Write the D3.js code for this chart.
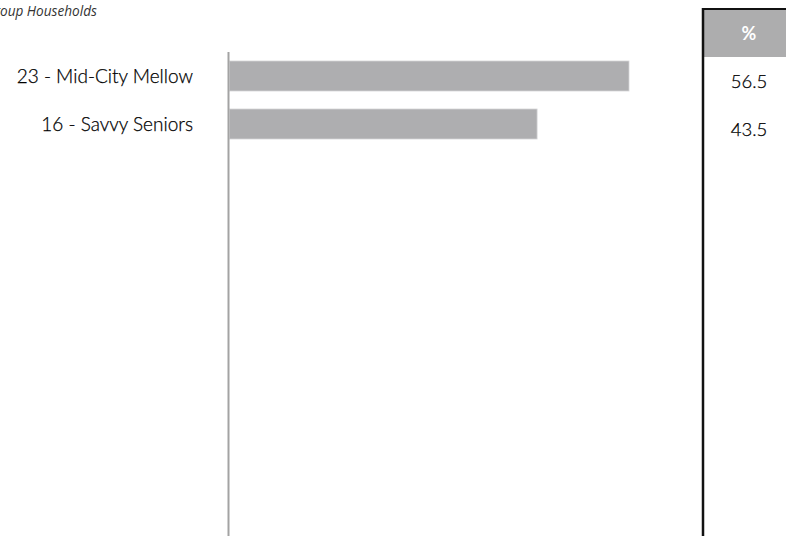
<!DOCTYPE html>
<html>
<head>
<meta charset="utf-8">
<script src="https://cdn.jsdelivr.net/npm/d3@7"></script>
<style>
  html, body { margin: 0; padding: 0; background: #fff; }
  svg { display: block; }
</style>
</head>
<body>
<div id="chart"></div>
<script>
const width = 786, height = 536;

const segments = ['23 - Mid-City Mellow', '16 - Savvy Seniors'];
const percents = [56.5, 43.5];
const tableHeader = '%';
const titleText = 'Group Households';

const slots = 10;               // the axis is laid out for ten rows, only two are filled
const font = 'Lato, "Open Sans", sans-serif';

const svg = d3.select('#chart')
  .append('svg')
  .attr('width', width)
  .attr('height', height);

const yScale = d3.scaleBand()
  .domain(d3.range(slots))
  .range([52, 52 + slots * 48])
  .paddingInner(0.375)
  .paddingOuter(0.1875);

const xScale = d3.scaleLinear()
  .domain([0, d3.max(percents)])
  .range([229.5, 629]);

/* Title - the original is cut off at the left edge, so "Gr" sits outside the page */
const title = svg.append('text')
  .attr('y', 16)
  .attr('font-family', '"Open Sans", sans-serif').attr('font-style', 'italic')
  .attr('font-size', '13.6px').attr('fill', '#333')
  .text(titleText);
title.attr('x', -title.node().getSubStringLength(0, 2));

/* Bars */
svg.selectAll('rect.bar')
  .data(percents).join('rect')
  .attr('class', 'bar')
  .attr('x', xScale(0))
  .attr('y', (d, i) => yScale(i))
  .attr('width', d => xScale(d) - xScale(0))
  .attr('height', yScale.bandwidth())
  .attr('fill', '#aeaeb0')
  .attr('stroke', '#d4d4d6').attr('stroke-width', 0.8);

/* Category labels */
svg.selectAll('text.cat')
  .data(segments).join('text')
  .attr('class', 'cat')
  .attr('x', 193)
  .attr('y', (d, i) => yScale(i) + yScale.bandwidth() / 2)
  .attr('dy', '0.35em')
  .attr('text-anchor', 'end')
  .attr('font-family', font).attr('font-weight', 300).attr('font-size', '19px')
  .attr('fill', '#000')
  .attr('stroke', '#000').attr('stroke-width', 0.25)
  .text(d => d);

/* Vertical axis line */
svg.append('line')
  .attr('x1', 228.5).attr('x2', 228.5)
  .attr('y1', 52).attr('y2', height)
  .attr('stroke', '#a3a3a3').attr('stroke-width', 2);

/* Side table */
const table = svg.append('g');
table.append('rect')
  .attr('x', 704).attr('y', 10)
  .attr('width', width - 704).attr('height', 47)
  .attr('fill', '#adadae');
table.append('line')
  .attr('x1', 703).attr('x2', width)
  .attr('y1', 9).attr('y2', 9)
  .attr('stroke', '#111').attr('stroke-width', 2);
table.append('line')
  .attr('x1', 703).attr('x2', 703)
  .attr('y1', 8).attr('y2', height)
  .attr('stroke', '#111').attr('stroke-width', 2.5);
table.append('text')
  .attr('x', 749).attr('y', 33.5).attr('dy', '0.35em')
  .attr('text-anchor', 'middle')
  .attr('font-family', font).attr('font-weight', 700)
  .attr('font-size', '18px').attr('fill', '#fff')
  .text(tableHeader);
table.selectAll('text.val')
  .data(percents).join('text')
  .attr('class', 'val')
  .attr('x', 749)
  .attr('y', (d, i) => yScale(i) + yScale.bandwidth() / 2 + 6)
  .attr('dy', '0.35em')
  .attr('text-anchor', 'middle')
  .attr('font-family', font).attr('font-weight', 300).attr('font-size', '18.5px')
  .attr('fill', '#000')
  .attr('stroke', '#000').attr('stroke-width', 0.25)
  .text(d => d3.format('.1f')(d));
</script>
</body>
</html>
